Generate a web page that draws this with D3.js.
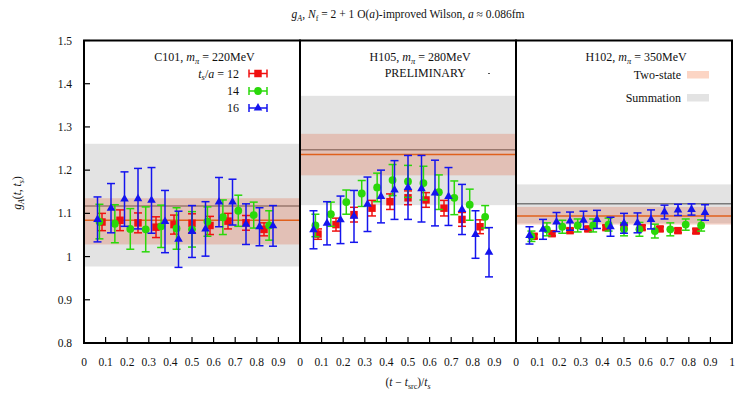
<!DOCTYPE html>
<html>
<head>
<meta charset="utf-8">
<script src="https://cdn.jsdelivr.net/npm/d3@7"></script>
<style>
  html, body { margin: 0; padding: 0; background: #fff; }
  svg { display: block; }
  svg text { font-family: "Liberation Serif", "Times New Roman", Tinos, serif; }
</style>
</head>
<body>
<svg id="chart" width="735" height="393" font-family="Liberation Serif, serif"></svg>
<script>
// Ensembles shown in the three panels
const ensembles = ["C101", "H105", "H102"];
const pionMasses = [220, 280, 350];
const sourceSinkSeps = [12, 14, 16];

// Tick labels
const yTicks = [0.8, 0.9, 1.0, 1.1, 1.2, 1.3, 1.4, 1.5];
const xTicks = [0, 0.1, 0.2, 0.3, 0.4, 0.5, 0.6, 0.7, 0.8, 0.9];

// Ratio data g_A(t, t_s): central values and errors, t = 1 .. t_s - 2
const c101_ts12 = [1.080, 1.084, 1.078, 1.068, 1.074, 1.077, 1.072, 1.082, 1.078, 1.063];
const c101_ts12_err = [0.020, 0.024, 0.023, 0.024, 0.022, 0.022, 0.021, 0.018, 0.017, 0.015];
const c101_ts14 = [1.081, 1.076, 1.064, 1.063, 1.070, 1.065, 1.063, 1.081, 1.091, 1.106, 1.096, 1.072];
const c101_ts14_err = [0.040, 0.044, 0.047, 0.052, 0.049, 0.048, 0.041, 0.034, 0.040, 0.036, 0.030, 0.034];
const c101_ts16 = [1.086, 1.112, 1.133, 1.134, 1.130, 1.081, 1.040, 1.058, 1.064, 1.126, 1.126, 1.075, 1.069, 1.071];
const c101_ts16_err = [0.052, 0.057, 0.063, 0.070, 0.076, 0.072, 0.065, 0.060, 0.063, 0.057, 0.053, 0.047, 0.044, 0.047];

const h105_ts12 = [1.052, 1.074, 1.097, 1.112, 1.127, 1.136, 1.131, 1.112, 1.086, 1.069];
const h105_ts12_err = [0.012, 0.015, 0.017, 0.018, 0.018, 0.016, 0.017, 0.018, 0.016, 0.016];
const h105_ts14 = [1.072, 1.098, 1.126, 1.146, 1.160, 1.177, 1.174, 1.170, 1.149, 1.136, 1.120, 1.092];
const h105_ts14_err = [0.026, 0.028, 0.028, 0.030, 0.033, 0.036, 0.037, 0.039, 0.040, 0.039, 0.036, 0.026];
const h105_ts16 = [1.062, 1.077, 1.085, 1.093, 1.121, 1.139, 1.154, 1.160, 1.157, 1.147, 1.139, 1.109, 1.051, 1.010];
const h105_ts16_err = [0.044, 0.050, 0.055, 0.060, 0.063, 0.061, 0.068, 0.074, 0.077, 0.076, 0.067, 0.058, 0.055, 0.057];

const h102_ts12 = [1.047, 1.053, 1.060, 1.064, 1.067, 1.069, 1.067, 1.064, 1.060, 1.059];
const h102_ts12_err = [0.005, 0.005, 0.005, 0.005, 0.005, 0.005, 0.005, 0.005, 0.005, 0.005];
const h102_ts14 = [1.047, 1.063, 1.069, 1.072, 1.072, 1.074, 1.063, 1.063, 1.059, 1.063, 1.074, 1.072];
const h102_ts14_err = [0.012, 0.015, 0.015, 0.015, 0.015, 0.015, 0.015, 0.016, 0.016, 0.015, 0.013, 0.013];
const h102_ts16 = [1.049, 1.063, 1.080, 1.082, 1.084, 1.086, 1.069, 1.077, 1.078, 1.086, 1.103, 1.108, 1.109, 1.102];
const h102_ts16_err = [0.020, 0.023, 0.022, 0.021, 0.021, 0.021, 0.022, 0.023, 0.023, 0.022, 0.016, 0.013, 0.013, 0.018];

// Fit results per ensemble: two-state fit and summation method
const twoStateCentral = [1.084, 1.236, 1.094];
const twoStateLow = [1.028, 1.188, 1.074];
const twoStateHigh = [1.135, 1.284, 1.115];
const summationCentral = [1.117, 1.247, 1.122];
const summationLow = [0.977, 1.119, 1.077];
const summationHigh = [1.261, 1.372, 1.167];

const seriesByPanel = [
  [[c101_ts12, c101_ts12_err], [c101_ts14, c101_ts14_err], [c101_ts16, c101_ts16_err]],
  [[h105_ts12, h105_ts12_err], [h105_ts14, h105_ts14_err], [h105_ts16, h105_ts16_err]],
  [[h102_ts12, h102_ts12_err], [h102_ts14, h102_ts14_err], [h102_ts16, h102_ts16_err]]
];

const seriesColors = ["#f01010", "#2ad80a", "#1414ee"];
const seriesSymbols = [d3.symbolSquare, d3.symbolCircle, d3.symbolTriangle];
const seriesSymbolSizes = [56, 48, 32];

const svg = d3.select("#chart");
const plotTop = 40.5, plotBottom = 343, panelW = 216;
const panelLefts = [84, 300, 516];
const serif = "Liberation Serif, Times New Roman, serif";

const y = d3.scaleLinear().domain([0.8, 1.5]).range([plotBottom, plotTop]);

function addText(sel) {
  return sel.append("text").attr("font-family", serif).attr("fill", "#111");
}

// Title
const title = addText(svg).attr("x", 408).attr("y", 18)
  .attr("text-anchor", "middle").attr("font-size", 11.5);
title.append("tspan").attr("font-style", "italic").text("g");
title.append("tspan").attr("font-style", "italic").attr("font-size", 8).attr("dy", 2.5).text("A");
title.append("tspan").attr("dy", -2.5).text(", ");
title.append("tspan").attr("font-style", "italic").text("N");
title.append("tspan").attr("font-size", 8).attr("dy", 2.5).text("f");
title.append("tspan").attr("dy", -2.5).text(" = 2 + 1 O(");
title.append("tspan").attr("font-style", "italic").text("a");
title.append("tspan").text(")-improved Wilson, ");
title.append("tspan").attr("font-style", "italic").text("a");
title.append("tspan").text(" \u2248 0.086fm");

panelLefts.forEach((left, p) => {
  const x = d3.scaleLinear().domain([0, 1]).range([left, left + panelW]);
  const g = svg.append("g");

  // Summation band and central value
  g.append("rect")
    .attr("x", x(0)).attr("width", x(1) - x(0))
    .attr("y", y(summationHigh[p])).attr("height", y(summationLow[p]) - y(summationHigh[p]))
    .attr("fill", "#e3e3e3");
  g.append("line")
    .attr("x1", x(0)).attr("x2", x(1))
    .attr("y1", y(summationCentral[p])).attr("y2", y(summationCentral[p]))
    .attr("stroke", "#7a7a7a").attr("stroke-width", 1.5);

  // Two-state fit band and central value
  g.append("rect")
    .attr("x", x(0)).attr("width", x(1) - x(0))
    .attr("y", y(twoStateHigh[p])).attr("height", y(twoStateLow[p]) - y(twoStateHigh[p]))
    .attr("fill", "#e07050").attr("fill-opacity", 0.3);
  g.append("line")
    .attr("x1", x(0)).attr("x2", x(1))
    .attr("y1", y(twoStateCentral[p])).attr("y2", y(twoStateCentral[p]))
    .attr("stroke", "#e0601c").attr("stroke-width", 1.5);

  // Data series with error bars
  seriesByPanel[p].forEach(([vals, errs], s) => {
    const ts = sourceSinkSeps[s];
    const color = seriesColors[s];
    const pts = vals.map((v, i) => ({ x: (i + 1) / ts, v, e: errs[i] }));
    const sg = g.append("g");
    pts.forEach(d => {
      const cx = x(d.x);
      sg.append("line").attr("x1", cx).attr("x2", cx)
        .attr("y1", y(d.v + d.e)).attr("y2", y(d.v - d.e))
        .attr("stroke", color).attr("stroke-width", 1.5);
      [d.v + d.e, d.v - d.e].forEach(yy => {
        sg.append("line").attr("x1", cx - 4).attr("x2", cx + 4)
          .attr("y1", y(yy)).attr("y2", y(yy))
          .attr("stroke", color).attr("stroke-width", 1.5);
      });
      sg.append("path")
        .attr("d", d3.symbol().type(seriesSymbols[s]).size(seriesSymbolSizes[s])())
        .attr("transform", `translate(${cx},${y(d.v)})`)
        .attr("fill", color);
    });
  });

  // Bottom ticks (inward) and labels
  xTicks.forEach(t => {
    if (t > 0) {
      g.append("line").attr("x1", x(t)).attr("x2", x(t))
        .attr("y1", plotBottom).attr("y2", plotBottom - 6)
        .attr("stroke", "#000").attr("stroke-width", 1.2);
    }
    addText(g).attr("x", x(t)).attr("y", 366)
      .attr("text-anchor", "middle").attr("font-size", 11.5)
      .text(d3.format("~g")(t));
  });

  // Panel frame
  g.append("rect")
    .attr("x", x(0)).attr("y", plotTop)
    .attr("width", x(1) - x(0)).attr("height", plotBottom - plotTop)
    .attr("fill", "none").attr("stroke", "#000").attr("stroke-width", 2);

  // Panel label
  const lab = addText(g).attr("x", x(0.79)).attr("y", 61)
    .attr("text-anchor", "end").attr("font-size", 12);
  lab.append("tspan").text(ensembles[p] + ", ");
  lab.append("tspan").attr("font-style", "italic").text("m");
  lab.append("tspan").attr("font-style", "italic").attr("font-size", 8.5).attr("dy", 2.5).text("\u03c0");
  lab.append("tspan").attr("dy", -2.5).text(" = " + pionMasses[p] + "MeV");
});

// Rightmost x label
addText(svg).attr("x", 732).attr("y", 366)
  .attr("text-anchor", "middle").attr("font-size", 11.5).text("1");

// Left y axis ticks and labels
yTicks.forEach(t => {
  svg.append("line").attr("x1", 84).attr("x2", 90)
    .attr("y1", y(t)).attr("y2", y(t))
    .attr("stroke", "#000").attr("stroke-width", 1.2);
  addText(svg).attr("x", 72).attr("y", y(t) + 4)
    .attr("text-anchor", "end").attr("font-size", 11.5)
    .text(d3.format("~g")(t));
});

// Axis titles
const yl = addText(svg)
  .attr("transform", "translate(21,193) rotate(-90)")
  .attr("text-anchor", "middle").attr("font-size", 11.5);
yl.append("tspan").attr("font-style", "italic").text("g");
yl.append("tspan").attr("font-style", "italic").attr("font-size", 8).attr("dy", 2.5).text("A");
yl.append("tspan").attr("dy", -2.5).text("(");
yl.append("tspan").attr("font-style", "italic").text("t");
yl.append("tspan").text(", ");
yl.append("tspan").attr("font-style", "italic").text("t");
yl.append("tspan").attr("font-style", "italic").attr("font-size", 8).attr("dy", 2.5).text("s");
yl.append("tspan").attr("dy", -2.5).text(")");

const xl = addText(svg).attr("x", 408).attr("y", 386)
  .attr("text-anchor", "middle").attr("font-size", 11.5);
xl.append("tspan").text("(");
xl.append("tspan").attr("font-style", "italic").text("t");
xl.append("tspan").text(" \u2212 ");
xl.append("tspan").attr("font-style", "italic").text("t");
xl.append("tspan").attr("font-size", 8).attr("dy", 2.5).text("src");
xl.append("tspan").attr("dy", -2.5).text(")/");
xl.append("tspan").attr("font-style", "italic").text("t");
xl.append("tspan").attr("font-style", "italic").attr("font-size", 8).attr("dy", 2.5).text("s");

// Legend for source-sink separations (first panel)
const legYs = [73.5, 91, 108];
sourceSinkSeps.forEach((ts, s) => {
  const ly = legYs[s];
  const t = addText(svg).attr("x", 239).attr("y", ly + 4)
    .attr("text-anchor", "end").attr("font-size", 12);
  if (s === 0) {
    t.append("tspan").attr("font-style", "italic").text("t");
    t.append("tspan").attr("font-style", "italic").attr("font-size", 8.5).attr("dy", 2.5).text("s");
    t.append("tspan").attr("dy", -2.5).text("/");
    t.append("tspan").attr("font-style", "italic").text("a");
    t.append("tspan").text(" = " + ts);
  } else {
    t.text(ts);
  }
  const c = seriesColors[s];
  svg.append("line").attr("x1", 249).attr("x2", 267).attr("y1", ly).attr("y2", ly)
    .attr("stroke", c).attr("stroke-width", 1.5);
  [249, 267].forEach(xx => svg.append("line").attr("x1", xx).attr("x2", xx)
    .attr("y1", ly - 4).attr("y2", ly + 4).attr("stroke", c).attr("stroke-width", 1.5));
  svg.append("path")
    .attr("d", d3.symbol().type(seriesSymbols[s]).size(seriesSymbolSizes[s])())
    .attr("transform", `translate(258,${ly})`).attr("fill", c);
});

// Second panel annotation
addText(svg).attr("x", 466).attr("y", 77)
  .attr("text-anchor", "end").attr("font-size", 12).text("PRELIMINARY");
svg.append("line").attr("x1", 488).attr("x2", 490).attr("y1", 73.5).attr("y2", 73.5)
  .attr("stroke", "#555").attr("stroke-width", 1);

// Legend for fit bands (third panel)
const bandLegend = [["Two-state", "#fcd5c4", 74.5], ["Summation", "#e3e3e3", 97.5]];
bandLegend.forEach(([name, col, ly]) => {
  addText(svg).attr("x", 681).attr("y", ly + 4)
    .attr("text-anchor", "end").attr("font-size", 12).text(name);
  svg.append("rect").attr("x", 687).attr("y", ly - 3.5).attr("width", 22).attr("height", 7.5)
    .attr("fill", col);
});
</script>
</body>
</html>
